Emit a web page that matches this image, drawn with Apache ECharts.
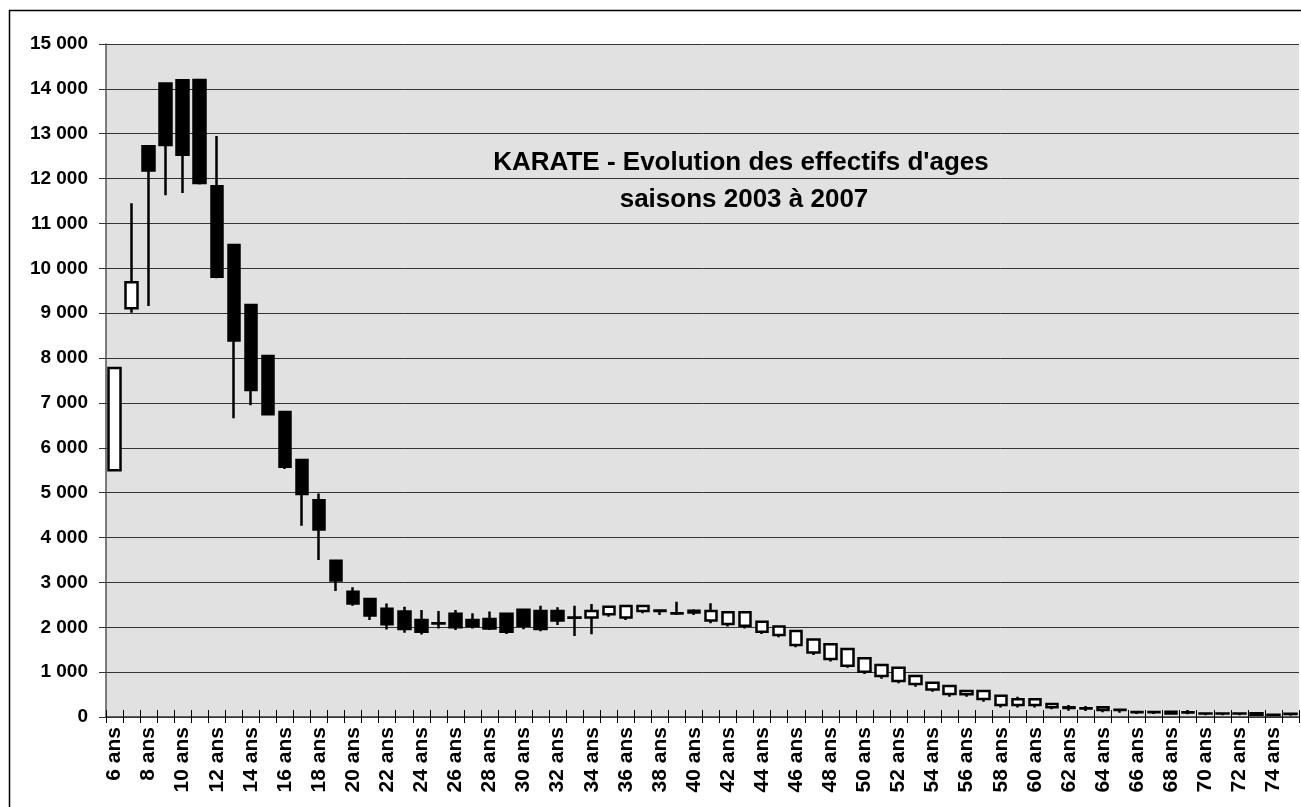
<!DOCTYPE html>
<html>
<head>
<meta charset="utf-8">
<title>KARATE - Evolution des effectifs d'ages</title>
<script src="https://cdn.jsdelivr.net/npm/echarts@6/dist/echarts.min.js"></script>
<style>
    html, body { margin: 0; padding: 0; background: #fff; }
    #KarateChart { width: 1301px; height: 807px; }
</style>
</head>
<body>
<div id="KarateChart"></div>
<script>
// ages (categories)
var categories = ['6 ans', '7 ans', '8 ans', '9 ans', '10 ans', '11 ans', '12 ans', '13 ans', '14 ans', '15 ans',
    '16 ans', '17 ans', '18 ans', '19 ans', '20 ans', '21 ans', '22 ans', '23 ans', '24 ans', '25 ans',
    '26 ans', '27 ans', '28 ans', '29 ans', '30 ans', '31 ans', '32 ans', '33 ans', '34 ans', '35 ans',
    '36 ans', '37 ans', '38 ans', '39 ans', '40 ans', '41 ans', '42 ans', '43 ans', '44 ans', '45 ans',
    '46 ans', '47 ans', '48 ans', '49 ans', '50 ans', '51 ans', '52 ans', '53 ans', '54 ans', '55 ans',
    '56 ans', '57 ans', '58 ans', '59 ans', '60 ans', '61 ans', '62 ans', '63 ans', '64 ans', '65 ans',
    '66 ans', '67 ans', '68 ans', '69 ans', '70 ans', '71 ans', '72 ans', '73 ans', '74 ans', '75 ans'];

// effectifs : ouverture / cloture / mini / maxi (saisons 2003 a 2007)
var opens = [5500, 9110, 12720, 14120, 14190, 14200, 11830, 10520, 9180, 8045,
    6800, 5730, 4830, 3480, 2790, 2630, 2410, 2350, 2160, 2090,
    2300, 2160, 2185, 2300, 2390, 2360, 2360, 2220, 2220, 2290,
    2215, 2360, 2375, 2315, 2370, 2150, 2075, 2035, 1900, 1830,
    1605, 1440, 1295, 1145, 1010, 915, 800, 735, 615, 515,
    505, 400, 265, 265, 265, 215, 215, 195, 155, 160,
    110, 110, 115, 105, 80, 80, 80, 85, 50, 70];
var closes = [7780, 9690, 12180, 12750, 12530, 11900, 9810, 8390, 7290, 6750,
    5580, 4970, 4180, 3040, 2530, 2260, 2070, 1960, 1900, 2085,
    2000, 2030, 1975, 1900, 2035, 1960, 2150, 2210, 2360, 2460,
    2475, 2475, 2365, 2305, 2330, 2360, 2335, 2335, 2125, 2015,
    1915, 1730, 1620, 1515, 1310, 1160, 1100, 915, 765, 690,
    580, 580, 475, 395, 395, 290, 200, 190, 215, 155,
    105, 105, 80, 100, 76, 76, 76, 50, 46, 66];
var lows = [5470, 9010, 9160, 11630, 11680, 11870, 9780, 6660, 6950, 6720,
    5530, 4260, 3500, 2810, 2480, 2160, 1950, 1880, 1840, 1975,
    1940, 1975, 1940, 1850, 1955, 1910, 2050, 1805, 1845, 2235,
    2160, 2310, 2275, 2275, 2275, 2090, 2015, 1975, 1850, 1775,
    1555, 1380, 1235, 1100, 960, 855, 750, 675, 565, 450,
    450, 340, 210, 210, 210, 170, 140, 134, 105, 96,
    67, 67, 60, 60, 38, 38, 38, 22, 22, 30];
var highs = [7790, 11450, 12730, 14130, 14200, 14200, 12950, 10520, 9190, 8050,
    6800, 5730, 4980, 3480, 2890, 2630, 2530, 2460, 2385, 2360,
    2385, 2310, 2350, 2310, 2400, 2480, 2445, 2480, 2520, 2460,
    2475, 2475, 2385, 2570, 2400, 2535, 2335, 2335, 2125, 2015,
    1920, 1730, 1620, 1515, 1310, 1160, 1100, 915, 765, 690,
    580, 580, 475, 450, 395, 290, 265, 245, 215, 170,
    134, 134, 134, 156, 105, 105, 105, 100, 67, 96];

var candles = [];
for (var i = 0; i < categories.length; i++) {
    candles.push([opens[i], closes[i], lows[i], highs[i]]);
}

// 15000 -> "15 000"
function formatMillier(v) {
    return String(v).replace(/\B(?=(\d{3})+(?!\d))/g, ' ');
}

var myChart = echarts.init(document.getElementById('KarateChart'));

var titleFont = 'bold 26px "Liberation Sans", Arial, sans-serif';

var option = {
    backgroundColor: '#fff',
    animation: false,
    textStyle: { fontFamily: 'Liberation Sans, Arial, sans-serif' },
    grid: {
        left: 106,
        top: 44,
        right: 2,
        bottom: 90,
        show: true,
        backgroundColor: '#e1e1e1',
        borderWidth: 0
    },
    graphic: [
        {
            type: 'rect',
            silent: true,
            shape: { x: 9.5, y: 10.5, width: 1400, height: 900 },
            style: { fill: 'none', stroke: '#000', lineWidth: 1.5 }
        },
        {
            type: 'text',
            silent: true,
            style: {
                text: "KARATE - Evolution des effectifs d'ages",
                x: 741, y: 163,
                align: 'center', verticalAlign: 'middle',
                font: titleFont,
                fill: '#000'
            }
        },
        {
            type: 'text',
            silent: true,
            style: {
                text: 'saisons 2003 à 2007',
                x: 744, y: 200,
                align: 'center', verticalAlign: 'middle',
                font: titleFont,
                fill: '#000'
            }
        }
    ],
    xAxis: [
        {
            type: 'category',
            data: categories,
            boundaryGap: true,
            axisLine: { lineStyle: { color: '#333', width: 1.5 } },
            axisTick: { show: true, interval: 0, length: 6, lineStyle: { color: '#000', width: 1 } },
            axisLabel: {
                interval: 1,
                rotate: 90,
                margin: 10,
                color: '#000',
                fontSize: 21,
                fontWeight: 'bold'
            },
            splitLine: { show: false }
        },
        {
            // demi-graduations vers l'interieur
            type: 'category',
            data: categories,
            position: 'bottom',
            offset: 0,
            boundaryGap: true,
            axisLine: { show: false },
            axisTick: { show: true, inside: true, interval: 0, length: 7, lineStyle: { color: '#000', width: 1 } },
            axisLabel: { show: false },
            splitLine: { show: false }
        }
    ],
    yAxis: {
        type: 'value',
        min: 0,
        max: 15000,
        interval: 1000,
        axisLine: { show: true, lineStyle: { color: '#555', width: 1.5 } },
        axisTick: { show: true, length: 7, lineStyle: { color: '#333' } },
        axisLabel: {
            margin: 18,
            color: '#000',
            fontSize: 19,
            fontWeight: 'bold',
            formatter: formatMillier
        },
        splitLine: { show: true, lineStyle: { color: '#333', width: 1 } }
    },
    series: [{
        type: 'candlestick',
        name: 'Effectifs',
        data: candles,
        barWidth: 12,
        itemStyle: {
            color: '#fff',
            color0: '#000',
            borderColor: '#000',
            borderColor0: '#000',
            borderWidth: 2.5
        }
    }]
};

myChart.setOption(option);
</script>
</body>
</html>
